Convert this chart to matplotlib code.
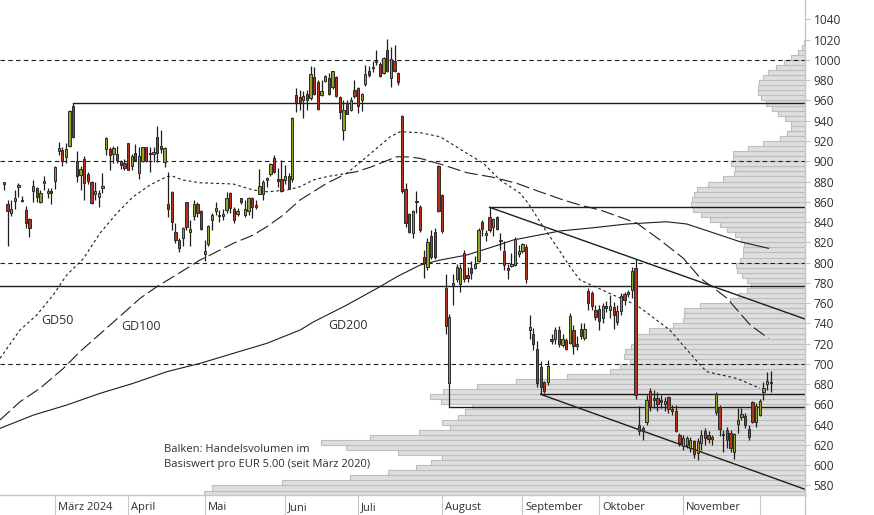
import matplotlib
matplotlib.use("Agg")
import matplotlib.pyplot as plt
import matplotlib.transforms as mtransforms
import numpy as np

plt.rcParams['font.family'] = ['Open Sans', 'DejaVu Sans']

# daily candles, one entry per trading day (mid Feb 2024 .. early Dec 2024)
opens = [878, 858, 849, 861, 875, 861, 852, 843, 871, 874, 860, 879, 869, 870, 881, 910, 911, 904, 915, 955,
         900, 886, 902, 887, 880, 868, 865, 874, 912, 912, 907, 907, 900, 898, 918, 895, 908, 888, 900, 914,
         908, 907, 924, 915, 899, 858, 870, 830, 822, 824, 860, 830, 846, 858, 851, 808, 818, 842, 851, 846,
         846, 852, 869, 853, 848, 864, 847, 851, 864, 857, 868, 868, 882, 887, 903, 883, 883, 882, 885, 883,
         965, 963, 960, 966, 962, 983, 978, 965, 979, 982, 973, 983, 963, 931, 958, 951, 970, 972, 960, 976,
         989, 992, 998, 996, 987, 1010, 982, 999, 987, 945, 873, 848, 829, 861, 855, 806, 796, 826, 830, 895,
         867, 775, 681, 778, 784, 779, 809, 788, 795, 795, 802, 840, 827, 845, 835, 845, 821, 811, 794, 797,
         798, 808, 811, 815, 733, 730, 715, 697, 682, 682, 725, 725, 733, 719, 724, 721, 733, 718, 734, 726,
         772, 770, 753, 754, 745, 757, 753, 756, 741, 752, 769, 769, 773, 795, 640, 637, 643, 673, 666, 666,
         664, 660, 667, 655, 654, 630, 619, 620, 617, 624, 612, 622, 634, 630, 626, 653, 657, 630, 635, 632,
         613, 641, 648, 649, 636, 662, 643, 650, 672, 680, 681]
highs = [880, 862, 862, 872, 879, 866, 856, 844, 882, 875, 872, 885, 874, 874, 895, 919, 914, 918, 951, 958,
         910, 895, 905, 889, 881, 880, 872, 888, 924, 914, 915, 915, 901, 902, 918, 907, 917, 914, 914, 914,
         914, 914, 935, 931, 914, 889, 871, 839, 824, 835, 860, 842, 862, 860, 852, 822, 837, 849, 860, 852,
         853, 870, 870, 855, 854, 864, 862, 865, 865, 862, 892, 882, 884, 898, 906, 893, 901, 896, 888, 944,
         972, 970, 969, 970, 994, 993, 980, 980, 985, 987, 989, 984, 964, 960, 960, 963, 980, 973, 967, 995,
         994, 999, 1010, 998, 1003, 1021, 1013, 1015, 988, 946, 879, 849, 852, 871, 857, 812, 824, 832, 834, 896,
         868, 789, 749, 789, 799, 799, 812, 796, 802, 807, 834, 842, 832, 855, 844, 846, 829, 821, 799, 809,
         825, 817, 819, 818, 748, 735, 723, 703, 683, 704, 730, 736, 737, 730, 726, 750, 738, 728, 740, 740,
         775, 772, 758, 758, 760, 762, 768, 761, 758, 770, 771, 773, 796, 804, 658, 639, 669, 676, 674, 672,
         669, 667, 668, 659, 659, 632, 630, 629, 628, 625, 627, 635, 637, 634, 630, 672, 659, 635, 638, 635,
         632, 656, 656, 652, 640, 663, 661, 665, 682, 692, 693]
lows = [872, 816, 846, 853, 865, 860, 834, 825, 860, 860, 859, 872, 864, 858, 873, 906, 895, 898, 914, 923,
        880, 872, 862, 878, 858, 862, 855, 869, 906, 891, 898, 898, 892, 891, 891, 891, 900, 883, 899, 899,
        889, 899, 899, 908, 894, 845, 832, 819, 810, 816, 832, 816, 842, 845, 832, 802, 816, 832, 847, 840,
        842, 849, 849, 839, 846, 858, 845, 847, 844, 853, 868, 862, 875, 885, 888, 875, 870, 878, 873, 880,
        949, 951, 943, 951, 960, 965, 951, 964, 978, 965, 971, 963, 942, 921, 947, 950, 962, 948, 950, 974,
        983, 988, 995, 983, 986, 988, 973, 988, 975, 869, 835, 829, 824, 849, 830, 785, 793, 804, 804, 850,
        829, 730, 657, 758, 781, 771, 781, 781, 784, 794, 801, 826, 821, 830, 826, 832, 812, 793, 784, 796,
        797, 806, 809, 780, 725, 714, 677, 670, 671, 679, 720, 720, 717, 717, 714, 720, 710, 714, 725, 724,
        753, 753, 743, 733, 740, 751, 745, 734, 738, 748, 758, 766, 765, 665, 630, 625, 640, 654, 656, 654,
        656, 654, 652, 650, 633, 619, 615, 617, 613, 607, 605, 615, 620, 622, 620, 650, 629, 613, 617, 613,
        606, 632, 645, 637, 625, 642, 638, 649, 664, 674, 672]
closes = [879, 851, 853, 864, 877, 862, 839, 834, 876, 865, 869, 880, 870, 869, 894, 913, 900, 912, 950, 924,
          885, 892, 879, 881, 859, 871, 869, 875, 923, 906, 913, 901, 896, 893, 891, 905, 901, 905, 914, 900,
          907, 909, 908, 912, 913, 853, 840, 822, 814, 834, 835, 833, 858, 849, 833, 811, 836, 847, 854, 847,
          848, 864, 854, 842, 851, 860, 853, 864, 855, 855, 876, 880, 883, 897, 889, 881, 871, 885, 873, 943,
          959, 959, 964, 960, 986, 966, 952, 969, 984, 966, 989, 964, 949, 951, 947, 960, 964, 955, 966, 986,
          985, 993, 999, 984, 1002, 989, 1001, 989, 978, 871, 839, 830, 851, 860, 832, 800, 820, 806, 806, 851,
          831, 737, 746, 780, 796, 795, 784, 785, 790, 799, 832, 833, 829, 832, 843, 833, 822, 798, 793, 798,
          823, 811, 818, 784, 736, 720, 681, 677, 673, 698, 723, 733, 720, 725, 715, 747, 718, 719, 728, 734,
          760, 757, 746, 742, 757, 755, 757, 748, 752, 767, 763, 771, 792, 669, 634, 634, 664, 658, 664, 660,
          662, 663, 655, 654, 634, 622, 627, 627, 625, 611, 624, 630, 627, 626, 628, 670, 636, 631, 625, 617,
          631, 645, 651, 640, 628, 643, 658, 663, 676, 683, 681]

# first trading day of each month (candle index) and its label
month_start = [14, 34, 55, 77, 97, 120, 142, 163, 186, 207]
month_labels = ["März 2024", "April", "Mai", "Juni", "Juli", "August",
                "September", "Oktober", "November", ""]

# moving averages (candle index, price)
gd50_x = [-1.06, 4.4, 9.0, 13.5, 17.2, 21.8, 26.3, 30.9, 35.4, 40.0, 44.6, 46.0, 49.1, 53.7, 62.8, 68.3,
          72.0, 77.5, 81.1, 84.7, 88.4, 93.9, 99.4, 105.8, 108.5, 114.0, 119.5, 126.8, 131.3, 135.9, 141.4,
          143.6, 147.7, 152.7, 155.0, 157.8, 161.4, 167.5, 173.3, 182.4, 190.7, 192.5, 200.7, 207.1]
gd50_y = [705.5, 733.4, 748.2, 768.0, 787.7, 804.0, 828.9, 848.6, 865.0, 876.6, 884.8, 885.5, 881.5, 878.8,
          877.6, 871.6, 869.9, 871.6, 874.9, 881.5, 884.8, 888.1, 904.5, 924.2, 929.2, 928.2, 924.2, 907.9,
          898.0, 881.5, 868.4, 858.5, 835.4, 809.0, 796.0, 782.8, 777.0, 767.0, 758.0, 733.4, 698.9, 692.3,
          685.7, 675.9]
gd100_x = [-1.06, 4.4, 9.9, 16.3, 20.8, 29.1, 37.3, 41.9, 50.1, 53.7, 57.4, 62.8, 68.3, 72.0, 76.5, 81.1,
           88.4, 93.9, 96.6, 100.7, 107.6, 111.2, 114.0, 120.4, 126.8, 134.0, 140.5, 146.8, 153.2, 157.8,
           163.3, 173.3, 179.7, 186.1, 190.7, 198.0, 204.4, 209.4]
gd100_y = [644.6, 662.6, 675.9, 695.6, 712.0, 738.4, 764.7, 776.2, 794.3, 802.5, 809.1, 819.0, 827.2, 835.4,
           846.9, 861.8, 878.2, 888.1, 889.7, 894.6, 904.5, 904.2, 902.9, 896.3, 888.7, 884.2, 878.2, 869.9,
           861.8, 856.8, 851.9, 839.0, 822.3, 804.2, 784.8, 765.0, 738.4, 725.2]
gd200_x = [-1.06, 8.1, 17.2, 26.3, 35.4, 44.6, 53.7, 62.8, 72.0, 81.1, 84.7, 93.9, 103.0, 107.6, 114.0,
           119.5, 126.8, 134.0, 139.5, 152.3, 161.4, 170.6, 181.5, 187.0, 193.4, 201.6, 209.4]
gd200_y = [636.4, 649.5, 659.4, 670.9, 680.8, 692.3, 700.5, 710.4, 720.3, 733.4, 741.3, 758.1, 776.2, 786.0,
           797.6, 802.5, 807.5, 815.7, 822.3, 831.2, 834.4, 838.1, 840.3, 838.1, 830.5, 820.6, 814.1]

# volume profile: 5 EUR price bins (lower edge) and relative volume
profile_price = list(range(570, 1020, 5))
profile_volume = [601, 593, 523, 455, 417, 389, 374, 363, 407, 459,
                  484, 435, 386, 355, 363, 347, 340, 333, 364, 375,
                  362, 328, 289, 238, 195, 185, 175, 181, 180, 174,
                  168, 168, 156, 132, 122, 121, 121, 105, 75, 67,
                  58, 54, 58, 63, 68, 69, 65, 62, 62, 61,
                  64, 70, 78, 85, 95, 104, 112, 114, 113, 111,
                  108, 97, 82, 71, 70, 74, 72, 72, 57, 42,
                  25, 18, 14, 14, 20, 27, 33, 39, 44, 47,
                  47, 46, 42, 37, 29, 21, 14, 7, 3, 1.5]

# support / resistance lines: (start index, level)
support_lines = [(-1.06, 777), (19, 958), (133, 854.6), (122, 657.1), (147, 670)]
# trend lines: start (index, price) -> end (index, price)
trend_lines = [((133, 854.6), (219.4, 744.3)), ((147, 670), (219.4, 576.2))]
dashed_levels = [700, 800, 900, 1000]
price_ticks = list(range(580, 1041, 20))

X_MIN, X_MAX = -1.06, 219.4
Y_MIN, Y_MAX = 570.6, 1059.2
GREEN = '#92a51f'
RED = '#b5321f'
DARK = '#1e1e1e'
AXIS_GRAY = '#c6c6c6'
TEXT = '#2e2e2e'

fig = plt.figure(figsize=(8.74, 5.15), dpi=100)
rect = [0, 20 / 515, 805 / 874, 495 / 515]

# volume profile sits behind everything
ax_p = fig.add_axes(rect, zorder=0)
ax_p.barh(profile_price, profile_volume, height=5, align='edge', left=0,
          color='#dedede', edgecolor='#bdbdbd', linewidth=0.8)
ax_p.set_xlim(805, 0)
ax_p.set_ylim(Y_MIN, Y_MAX)
ax_p.axis('off')

ax = fig.add_axes(rect, zorder=1)
ax.patch.set_visible(False)
ax.set_xlim(X_MIN, X_MAX)
ax.set_ylim(Y_MIN, Y_MAX)

for lvl in dashed_levels:
    ax.axhline(lvl, color=DARK, lw=0.8, dashes=(4, 3), zorder=2)
for x0, lvl in support_lines:
    ax.plot([x0, 219.0], [lvl, lvl], color=DARK, lw=1.0, zorder=2)
for (x0, y0), (x1, y1) in trend_lines:
    ax.plot([x0, x1], [y0, y1], color=DARK, lw=1.0, zorder=2)

# moving averages
ax.plot(gd50_x, gd50_y, color=DARK, lw=0.8, dashes=(2.5, 2.5), zorder=3)
ax.plot(gd100_x, gd100_y, color=DARK, lw=0.8, dashes=(12, 4), zorder=3)
ax.plot(gd200_x, gd200_y, color=DARK, lw=0.8, zorder=3)
ax.text(10.2, 743, 'GD50', fontsize=9, color=TEXT, va='center')
ax.text(32.1, 737, 'GD100', fontsize=9, color=TEXT, va='center')
ax.text(88.8, 738, 'GD200', fontsize=9, color=TEXT, va='center')

# candles
o = np.array(opens, dtype=float)
c = np.array(closes, dtype=float)
idx = np.arange(len(o))
up = c >= o
body = np.maximum(np.abs(c - o), 1.2)
ax.vlines(idx, lows, highs, color=DARK, lw=0.9, zorder=4)
ax.bar(idx, body, bottom=np.minimum(o, c), width=0.62,
       color=np.where(up, GREEN, RED), edgecolor='#2a2a2a', linewidth=0.7, zorder=5)

ax.text(43.85, 615.4, 'Balken: Handelsvolumen im', fontsize=8, color=TEXT, va='center')
ax.text(43.85, 600.6, 'Basiswert pro EUR 5.00 (seit März 2020)', fontsize=8, color=TEXT, va='center')

# axes styling: price scale on the right, month band below
for side in ['left', 'top']:
    ax.spines[side].set_visible(False)
for side in ['right', 'bottom']:
    ax.spines[side].set_color(AXIS_GRAY)
    ax.spines[side].set_linewidth(1.0)
ax.yaxis.tick_right()
ax.set_yticks(price_ticks)
ax.tick_params(axis='y', length=3.6, width=0.8, color=AXIS_GRAY, pad=2.5,
               labelsize=8.6, labelcolor=TEXT)
ax.set_xticks(month_start)
ax.tick_params(axis='x', length=14.4, width=0.8, color=AXIS_GRAY, labelbottom=False)
offset = mtransforms.ScaledTranslation(3 / 100, -12.5 / 100, fig.dpi_scale_trans)
for pos, lab in zip(month_start, month_labels):
    ax.text(pos, 0, lab, transform=ax.get_xaxis_transform() + offset,
            fontsize=8, color=TEXT, ha='left', va='center', clip_on=False)
fig.add_artist(plt.Line2D([805 / 874, 805 / 874], [0, 20 / 515], color=AXIS_GRAY, lw=1.0))

fig.savefig('out.png', dpi=100)
